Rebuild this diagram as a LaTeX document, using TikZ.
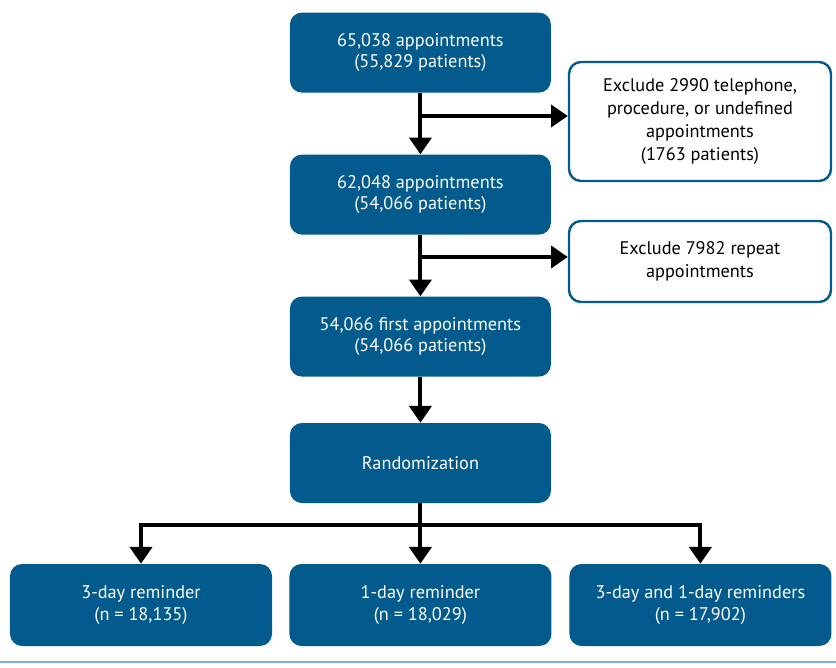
\documentclass[tikz,border=0pt]{standalone}
\usepackage{fontspec}
\setmainfont{PT Sans}
\usetikzlibrary{arrows.meta}
\definecolor{flowblue}{HTML}{035A8D}
\definecolor{ruleblue}{HTML}{7FB3D8}
\begin{document}
\begin{tikzpicture}[
    >={Triangle[width=5.5mm, length=4.2mm]},
    font=\fontsize{13}{15}\selectfont,
    flow/.style={fill=flowblue, text=white, rectangle, rounded corners=3mm, minimum width=6.525cm, minimum height=2.0cm, align=center},
    excl/.style={draw=flowblue, line width=0.6mm, fill=white, rectangle, rounded corners=3mm, minimum width=6.55cm, align=center, font=\fontsize{13}{16.3}\selectfont},
    arm/.style={line width=1mm}
]
    \useasboundingbox (0, 0) rectangle (20.9, 16.675);

    \node [flow] (A) at (10.51, 15.36) {65,038 appointments\\(55,829 patients)};
    \node [flow] (B) at (10.51, 11.81) {62,048 appointments\\(54,066 patients)};
    \node [flow] (C) at (10.51, 8.26) {54,066 first appointments\\(54,066 patients)};
    \node [flow] (R) at (10.51, 5.1) {Randomization};
    \node [excl, minimum height=2.975cm] (X1) at (17.5, 13.6375) {Exclude 2990 telephone,\\procedure, or undefined\\appointments\\(1763 patients)};
    \node [excl, minimum height=2.025cm] (X2) at (17.5, 10.1375) {Exclude 7982 repeat\\appointments};
    \node [flow, minimum width=6.55cm, minimum height=2.05cm] (G1) at (3.525, 1.55) {3-day reminder\\(n = 18,135)};
    \node [flow, minimum width=6.55cm, minimum height=2.05cm] (G2) at (10.51, 1.55) {1-day reminder\\(n = 18,029)};
    \node [flow, minimum width=6.55cm, minimum height=2.05cm] (G3) at (17.51, 1.55) {3-day and 1-day reminders\\(n = 17,902)};

    \coordinate (s1) at (10.51, 13.775);
    \coordinate (s2) at (10.51, 10.25);
    \coordinate (s3) at (10.51, 3.55);

    \draw [->, arm] (A) -- (B);
    \draw [->, arm] (s1) -- (s1 -| X1.west);
    \draw [->, arm] (B) -- (C);
    \draw [->, arm] (s2) -- (s2 -| X2.west);
    \draw [->, arm] (C) -- (R);
    \draw [->, arm] (R) -- (G2);
    \draw [->, arm] (s3 -| G2.north) -| (G1.north);
    \draw [->, arm] (s3 -| G2.north) -| (G3.north);

    \draw [ruleblue, line width=0.3mm] (0, 0.125) -- (20.9, 0.125);
\end{tikzpicture}
\end{document}
